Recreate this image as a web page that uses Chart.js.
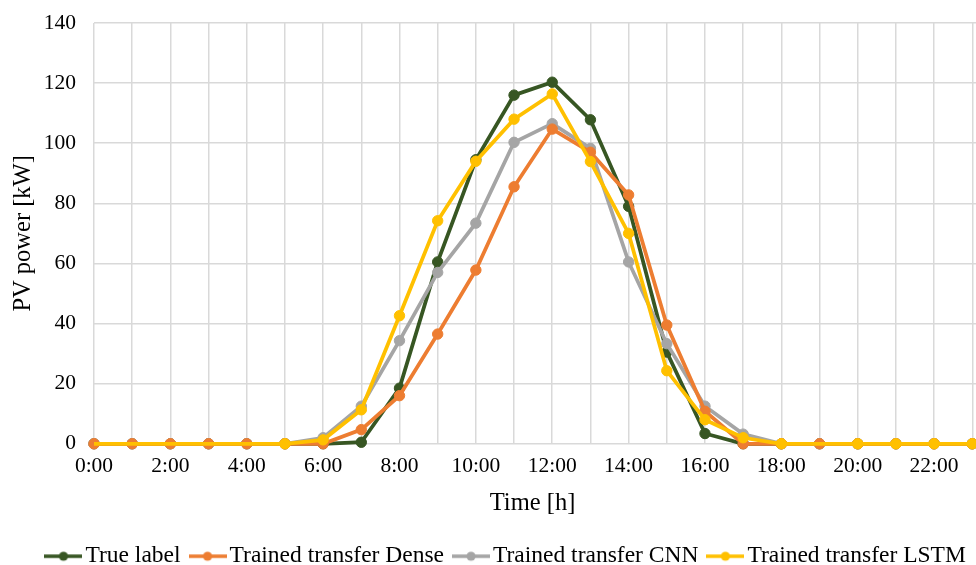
<!DOCTYPE html>
<html>
<head>
<meta charset="utf-8">
<script src="https://cdn.jsdelivr.net/npm/chart.js@4.4.1/dist/chart.umd.min.js"></script>
<style>
  html, body { margin: 0; padding: 0; background: #fff; overflow: hidden; }
  #chart1 { display: block; }
</style>
</head>
<body>
<canvas id="chart1" width="1014" height="578" style="width:1014px;height:578px"></canvas>
<script>
var hours = [0, 1, 2, 3, 4, 5, 6, 7, 8, 9, 10, 11, 12, 13, 14, 15, 16, 17, 18, 19, 20, 21, 22, 23];
var xTickLabels = ['0:00', '', '2:00', '', '4:00', '', '6:00', '', '8:00', '', '10:00', '', '12:00', '', '14:00', '', '16:00', '', '18:00', '', '20:00', '', '22:00', ''];
var yTicks = [0, 20, 40, 60, 80, 100, 120, 140];

var trueLabel = [0, 0, 0, 0, 0, 0, 0, 0.5, 18.5, 60.5, 94.5, 116, 120.3, 107.8, 79, 30.5, 3.4, 0, 0, 0, 0, 0, 0, 0];
var denseVals = [0, 0, 0, 0, 0, 0, 0, 4.7, 16, 36.5, 57.8, 85.5, 104.7, 97, 82.8, 39.5, 10.8, 0, 0, 0, 0, 0, 0, 0];
var cnnVals   = [0, 0, 0, 0, 0, 0, 2, 12.5, 34.3, 57, 73.4, 100.3, 106.5, 98.3, 60.5, 33.3, 12.5, 3.2, 0, 0, 0, 0, 0, 0];
var lstmVals  = [0, 0, 0, 0, 0, 0, 1.3, 11.3, 42.6, 74.2, 94, 108, 116.4, 93.9, 70, 24.3, 8, 2, 0, 0, 0, 0, 0, 0];

var seriesNames = ['True label', 'Trained transfer Dense', 'Trained transfer CNN', 'Trained transfer LSTM'];
var seriesColors = ['#375623', '#ED7D31', '#A5A5A5', '#FFC000'];

// in the original the LSTM markers don't show at these hours (orange dots show through)
var lstmNoMarker = [0, 1, 2, 3, 4, 19];

var serif = "'Times New Roman', 'Liberation Serif', serif";

function pts(vals) {
  return hours.map(function(h, i) { return {x: h, y: vals[i]}; });
}

// little line + dot used as legend key
function legendIcon(color) {
  var c = document.createElement('canvas');
  c.width = 38; c.height = 12;
  var g = c.getContext('2d');
  g.strokeStyle = color;
  g.lineWidth = 3.5;
  g.beginPath(); g.moveTo(0, 6); g.lineTo(38, 6); g.stroke();
  g.fillStyle = color;
  g.beginPath(); g.arc(19, 6, 4.6, 0, Math.PI * 2); g.fill();
  return c;
}

function makeSet(i, vals, order) {
  return {
    label: seriesNames[i],
    data: pts(vals),
    borderColor: seriesColors[i],
    backgroundColor: seriesColors[i],
    pointBackgroundColor: seriesColors[i],
    pointBorderColor: seriesColors[i],
    borderWidth: 3.75,
    pointRadius: 5.2,
    pointBorderWidth: 1,
    tension: 0,
    fill: false,
    clip: false,
    order: order
  };
}

var lstmSet = makeSet(3, lstmVals, 1);
lstmSet.pointRadius = function(c) {
  return lstmNoMarker.indexOf(c.dataIndex) >= 0 ? 0 : 5.2;
};
lstmSet.pointBorderWidth = function(c) {
  return lstmNoMarker.indexOf(c.dataIndex) >= 0 ? 0 : 1;
};

// chart1
var ctx = document.getElementById('chart1').getContext('2d');

var myChart = new Chart(ctx, {
  type: 'line',
  data: {
    datasets: [
      makeSet(0, trueLabel, 4),
      makeSet(1, denseVals, 2),
      makeSet(2, cnnVals, 3),
      lstmSet
    ]
  },
  options: {
    responsive: false,
    animation: false,
    devicePixelRatio: 1,
    layout: { padding: { top: 23, left: 5, right: 0, bottom: 0 } },
    plugins: {
      tooltip: { enabled: false },
      legend: {
        position: 'bottom',
        display: true,
        labels: {
          color: '#000',
          font: { family: serif, size: 23.5 },
          usePointStyle: true,
          pointStyleWidth: 20.5,
          padding: 16.75,
          generateLabels: function(chart) {
            return chart.data.datasets.map(function(ds, i) {
              return {
                text: ds.label,
                datasetIndex: i,
                pointStyle: legendIcon(seriesColors[i]),
                fillStyle: seriesColors[i],
                strokeStyle: seriesColors[i],
                lineWidth: 0,
                hidden: false,
                fontColor: '#000'
              };
            });
          }
        }
      }
    },
    scales: {
      x: {
        type: 'linear',
        bounds: 'data',
        min: 0,
        max: 23.93,
        afterFit: function(scale) {
          scale.height = 84;
          scale.paddingLeft = 0;
          scale.paddingRight = 0;
        },
        ticks: {
          stepSize: 1,
          includeBounds: false,
          autoSkip: false,
          maxRotation: 0,
          padding: 10,
          color: '#000',
          font: { family: serif, size: 21.5 },
          callback: function(v) {
            var t = xTickLabels[v];
            return t === undefined ? '' : t;
          }
        },
        grid: { color: '#d9d9d9', lineWidth: 1.5, drawTicks: false },
        border: { display: false },
        title: {
          display: true,
          // trailing spaces pull the centred title left, to the middle of the visible plot
          text: 'Time [h]      ',
          color: '#000',
          font: { family: serif, size: 24.5 },
          padding: { top: 7.7, bottom: 9 }
        }
      },
      y: {
        min: yTicks[0],
        max: yTicks[yTicks.length - 1],
        afterFit: function(scale) {
          scale.width = 89;
          scale.paddingTop = 0;
          scale.paddingBottom = 0;
        },
        ticks: {
          stepSize: 20,
          padding: 18,
          color: '#000',
          font: { family: serif, size: 21.5 }
        },
        grid: { color: '#d9d9d9', lineWidth: 1.5, drawTicks: false },
        border: { display: false },
        title: {
          display: true,
          text: 'PV power [kW]',
          color: '#000',
          font: { family: serif, size: 24.5 },
          padding: { top: 4.3, bottom: 0 }
        }
      }
    }
  }
});
</script>
</body>
</html>
